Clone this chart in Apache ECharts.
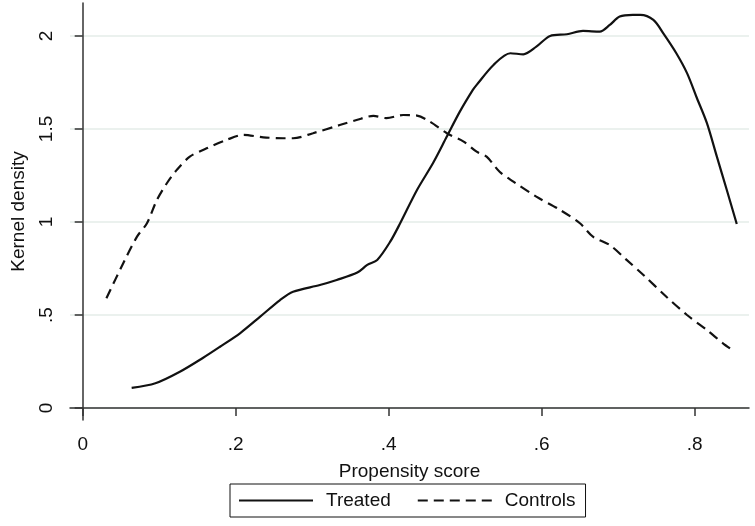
<!DOCTYPE html>
<html>
<head>
<meta charset="utf-8">
<script src="https://cdn.jsdelivr.net/npm/echarts@6/dist/echarts.min.js"></script>
<style>
  html, body { margin: 0; padding: 0; background: #fff; }
  #chart { width: 755px; height: 526px; }
</style>
</head>
<body>
<div id="chart"></div>
<script>
// propensity score vs kernel density
const treatedX = [0.064, 0.095, 0.127, 0.157, 0.179, 0.206, 0.232, 0.258, 0.275, 0.31, 0.332, 0.359, 0.372, 0.385, 0.402, 0.415, 0.437, 0.458, 0.476, 0.493, 0.51, 0.515, 0.537, 0.559, 0.576, 0.593, 0.611, 0.633, 0.654, 0.676, 0.689, 0.702, 0.719, 0.729, 0.746, 0.759, 0.776, 0.79, 0.803, 0.816, 0.829, 0.842, 0.855]
const treatedY = [0.108, 0.133, 0.195, 0.269, 0.328, 0.403, 0.491, 0.58, 0.625, 0.661, 0.688, 0.728, 0.769, 0.796, 0.894, 0.993, 1.172, 1.317, 1.459, 1.593, 1.71, 1.737, 1.844, 1.907, 1.901, 1.942, 2.0, 2.009, 2.027, 2.023, 2.059, 2.104, 2.113, 2.113, 2.086, 2.014, 1.907, 1.8, 1.665, 1.531, 1.351, 1.172, 0.989]
const controlsX = [0.031, 0.053, 0.071, 0.084, 0.097, 0.11, 0.123, 0.14, 0.162, 0.188, 0.21, 0.236, 0.262, 0.275, 0.301, 0.336, 0.358, 0.38, 0.397, 0.419, 0.437, 0.454, 0.476, 0.498, 0.515, 0.528, 0.545, 0.563, 0.593, 0.624, 0.65, 0.667, 0.689, 0.711, 0.733, 0.763, 0.79, 0.816, 0.837, 0.852]
const controlsY = [0.59, 0.778, 0.921, 0.993, 1.118, 1.208, 1.28, 1.351, 1.396, 1.441, 1.468, 1.455, 1.45, 1.45, 1.477, 1.521, 1.548, 1.57, 1.558, 1.575, 1.572, 1.539, 1.477, 1.432, 1.378, 1.351, 1.27, 1.217, 1.136, 1.065, 0.993, 0.921, 0.876, 0.796, 0.715, 0.598, 0.5, 0.419, 0.348, 0.303]
const xTicks = [0, 0.2, 0.4, 0.6, 0.8]
const yTicks = [0, 0.5, 1, 1.5, 2]

const zip = (xs, ys) => xs.map((x, i) => [x, ys[i]])
// stata style: drop the leading zero
const fmt = (v) => String(+v.toFixed(2)).replace(/^0\./, '.')

const chart = echarts.init(document.getElementById('chart'))
const font = 'Liberation Sans, Arial, sans-serif'

chart.setOption({
  animation: false,
  backgroundColor: '#fff',
  textStyle: { fontFamily: font },
  grid: { left: 70, right: 6, top: 3, bottom: 106 },
  legend: {
    left: 230,
    top: 484,
    padding: [7, 10, 7, 8],
    itemWidth: 74,
    itemHeight: 14,
    itemGap: 26,
    borderColor: '#111',
    borderWidth: 1,
    borderRadius: 0,
    itemStyle: { opacity: 0 },
    textStyle: { fontSize: 19, color: '#111', padding: [0, 0, 0, 8] },
    data: ['Treated', 'Controls'],
  },
  xAxis: {
    type: 'value',
    min: -0.0166,
    max: 0.871,
    name: 'Propensity score',
    nameLocation: 'middle',
    nameGap: 42,
    nameTextStyle: { fontSize: 19, color: '#111' },
    axisLine: { lineStyle: { color: '#333', width: 1.5 } },
    axisTick: { customValues: xTicks, length: 8, lineStyle: { color: '#333', width: 1.5 } },
    axisLabel: { customValues: xTicks, formatter: fmt, fontSize: 19, color: '#111', margin: 15 },
    splitLine: { show: false },
  },
  yAxis: {
    type: 'value',
    min: -0.0645,
    max: 2.177,
    name: 'Kernel density',
    nameLocation: 'middle',
    nameGap: 42,
    nameTextStyle: { fontSize: 19, color: '#111' },
    axisLine: { show: true, lineStyle: { color: '#333', width: 1.5 } },
    axisTick: { show: true, customValues: yTicks, length: 8, lineStyle: { color: '#333', width: 1.5 } },
    axisLabel: { customValues: yTicks, formatter: fmt, fontSize: 19, color: '#111', rotate: 90, margin: 14 },
    splitLine: { show: true, lineStyle: { color: '#e5ece8', width: 1.5 } },
  },
  series: [
    {
      name: 'Treated',
      type: 'line',
      smooth: 0.3,
      symbol: 'none',
      lineStyle: { color: '#111', width: 2.2 },
      itemStyle: { color: '#111' },
      data: zip(treatedX, treatedY),
    },
    {
      name: 'Controls',
      type: 'line',
      smooth: 0.3,
      symbol: 'none',
      lineStyle: { color: '#111', width: 2.2, type: [10, 6] },
      itemStyle: { color: '#111' },
      data: zip(controlsX, controlsY),
    },
  ],
})
</script>
</body>
</html>
